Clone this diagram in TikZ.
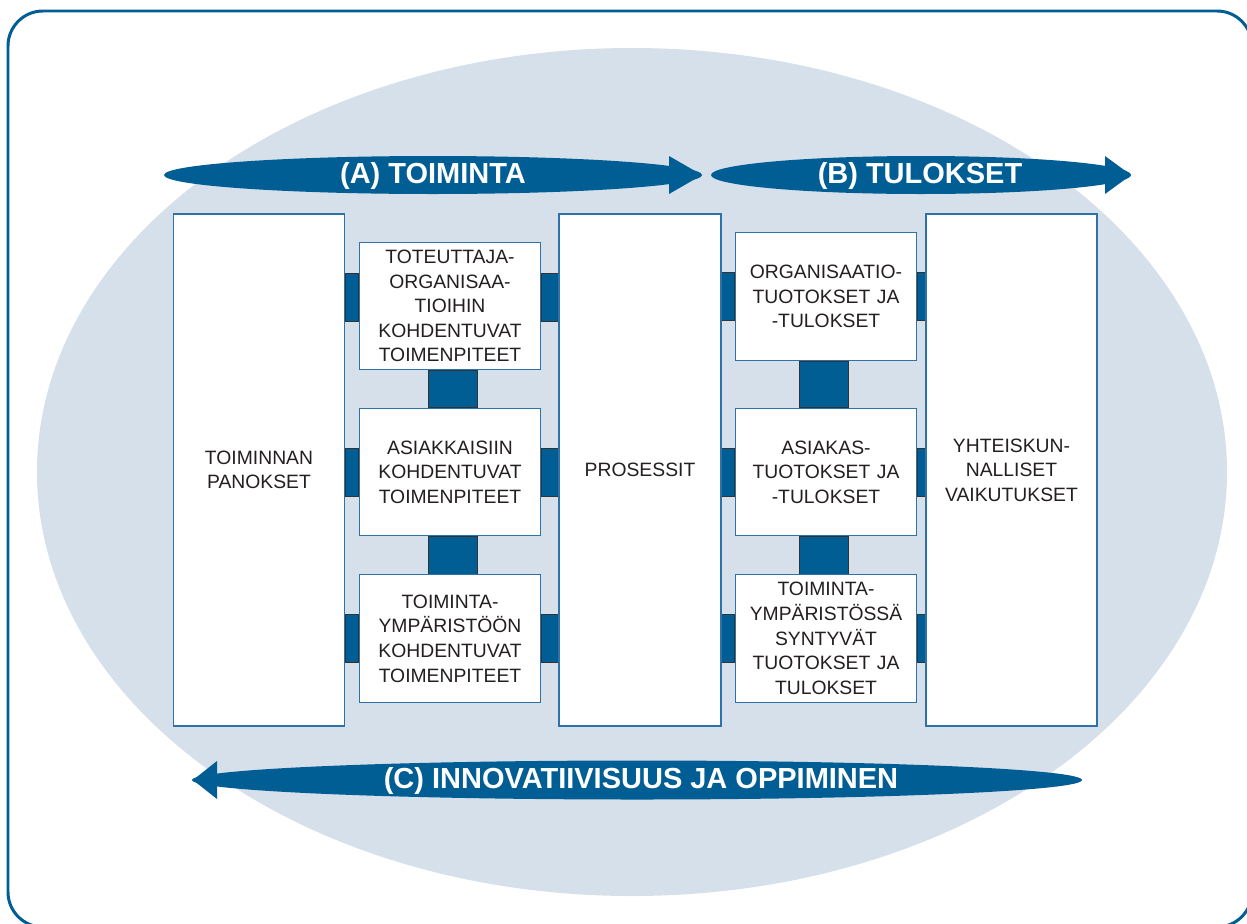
\documentclass[tikz,border=0pt]{standalone}
\usepackage{fontspec}
\setmainfont{Liberation Sans}
\usetikzlibrary{calc,backgrounds}

\definecolor{darkblue}{HTML}{005E95}
\definecolor{paleblue}{HTML}{D6E0EA}
\definecolor{boxline}{HTML}{2F72AA}
\definecolor{inktext}{HTML}{231F20}

\begin{document}
\begin{tikzpicture}[x=0.02cm, y=-0.02cm,
	box/.style={draw=boxline, line width=0.8pt, fill=white, align=center, inner sep=0pt, text=inktext, font=\fontsize{11}{14}\selectfont},
	bigbox/.style={box, minimum height=10.24cm},
	smallbox/.style={box, minimum height=2.55cm, minimum width=3.63cm, text width=3.5cm},
	link/.style={fill=darkblue, draw=black!80, line width=0.5pt},
	frame/.style={draw=darkblue, line width=1.7pt, rounded corners=0.7cm},
	flow/.style={fill=darkblue},
	flowtext/.style={text=white, inner sep=0pt, font=\fontsize{16.5}{18}\selectfont\bfseries}
]
	\useasboundingbox (0,0) rectangle (1247,923);

	% frame and pale background
	\begin{scope}[on background layer]
		\draw[frame] (8,11) rectangle (1252,927);
		\fill[paleblue] (632,472) ellipse [x radius=595, y radius=424];
	\end{scope}

	% big arrows
	\fill[flow] (433,175) ellipse [x radius=269, y radius=19];
	\fill[flow] (669,156) -- (702,175) -- (669,194) -- cycle;
	\fill[flow] (921,175) ellipse [x radius=210, y radius=19];
	\fill[flow] (1105,156) -- (1131,175) -- (1105,194) -- cycle;
	\fill[flow] (637,780) ellipse [x radius=445, y radius=19.5];
	\fill[flow] (217,761) -- (193,780) -- (217,799) -- cycle;

	\node[flowtext] (toiminta) at (433,176) {(A) TOIMINTA};
	\node[flowtext] (tulokset) at (920,176) {(B) TULOKSET};
	\node[flowtext] (oppiminen) at (641,781) {(C) INNOVATIIVISUUS JA OPPIMINEN};

	% columns
	\node[bigbox, minimum width=3.43cm, text width=3.2cm] (panokset) at (259,470) {TOIMINNAN\\PANOKSET};
	\node[bigbox, minimum width=3.24cm, text width=3.1cm] (prosessit) at (640,470) {PROSESSIT};
	\node[bigbox, minimum width=3.42cm, text width=3.2cm] (vaikutukset) at (1011.5,470) {YHTEISKUN-\\NALLISET\\VAIKUTUKSET};

	\node[smallbox] (toteuttaja) at (450,306) {TOTEUTTAJA-\\ORGANISAA-\\TIOIHIN\\KOHDENTUVAT\\TOIMENPITEET};
	\node[smallbox] (asiakkaat) at (450,472) {ASIAKKAISIIN\\KOHDENTUVAT\\TOIMENPITEET};
	\node[smallbox] (ymparisto) at (450,638.5) {TOIMINTA-\\YMPÄRISTÖÖN\\KOHDENTUVAT\\TOIMENPITEET};

	\node[smallbox] (orgtulos) at (826,296.5) {ORGANISAATIO-\\TUOTOKSET JA\\-TULOKSET};
	\node[smallbox] (asiakastulos) at (826,472) {ASIAKAS-\\TUOTOKSET JA\\-TULOKSET};
	\node[smallbox] (ymptulos) at (826,638.5) {TOIMINTA-\\YMPÄRISTÖSSÄ\\SYNTYVÄT\\TUOTOKSET JA\\TULOKSET};

	\coordinate (row1) at (0,297);

	% connectors
	\begin{scope}[on background layer]
		\draw[link] ($(panokset.east |- row1)+(0,-24)$) rectangle ($(toteuttaja.west |- row1)+(0,24)$);
		\draw[link] ($(toteuttaja.east |- row1)+(0,-24)$) rectangle ($(prosessit.west |- row1)+(0,24)$);
		\draw[link] ($(panokset.east |- asiakkaat)+(0,-24)$) rectangle ($(asiakkaat.west)+(0,24)$);
		\draw[link] ($(asiakkaat.east)+(0,-24)$) rectangle ($(prosessit.west |- asiakkaat)+(0,24)$);
		\draw[link] ($(panokset.east |- ymparisto)+(0,-24)$) rectangle ($(ymparisto.west)+(0,24)$);
		\draw[link] ($(ymparisto.east)+(0,-24)$) rectangle ($(prosessit.west |- ymparisto)+(0,24)$);
		\draw[link] ($(toteuttaja.south)+(-22,0)$) rectangle ($(asiakkaat.north)+(27,0)$);
		\draw[link] ($(asiakkaat.south)+(-22,0)$) rectangle ($(ymparisto.north)+(27,0)$);

		\draw[link] ($(prosessit.east |- orgtulos)+(0,-24)$) rectangle ($(orgtulos.west)+(0,24)$);
		\draw[link] ($(orgtulos.east)+(0,-24)$) rectangle ($(vaikutukset.west |- orgtulos)+(0,24)$);
		\draw[link] ($(prosessit.east |- asiakastulos)+(0,-24)$) rectangle ($(asiakastulos.west)+(0,24)$);
		\draw[link] ($(asiakastulos.east)+(0,-24)$) rectangle ($(vaikutukset.west |- asiakastulos)+(0,24)$);
		\draw[link] ($(prosessit.east |- ymptulos)+(0,-24)$) rectangle ($(ymptulos.west)+(0,24)$);
		\draw[link] ($(ymptulos.east)+(0,-24)$) rectangle ($(vaikutukset.west |- ymptulos)+(0,24)$);
		\draw[link] ($(orgtulos.south)+(-27,0)$) rectangle ($(asiakastulos.north)+(22,0)$);
		\draw[link] ($(asiakastulos.south)+(-27,0)$) rectangle ($(ymptulos.north)+(22,0)$);
	\end{scope}
\end{tikzpicture}
\end{document}
